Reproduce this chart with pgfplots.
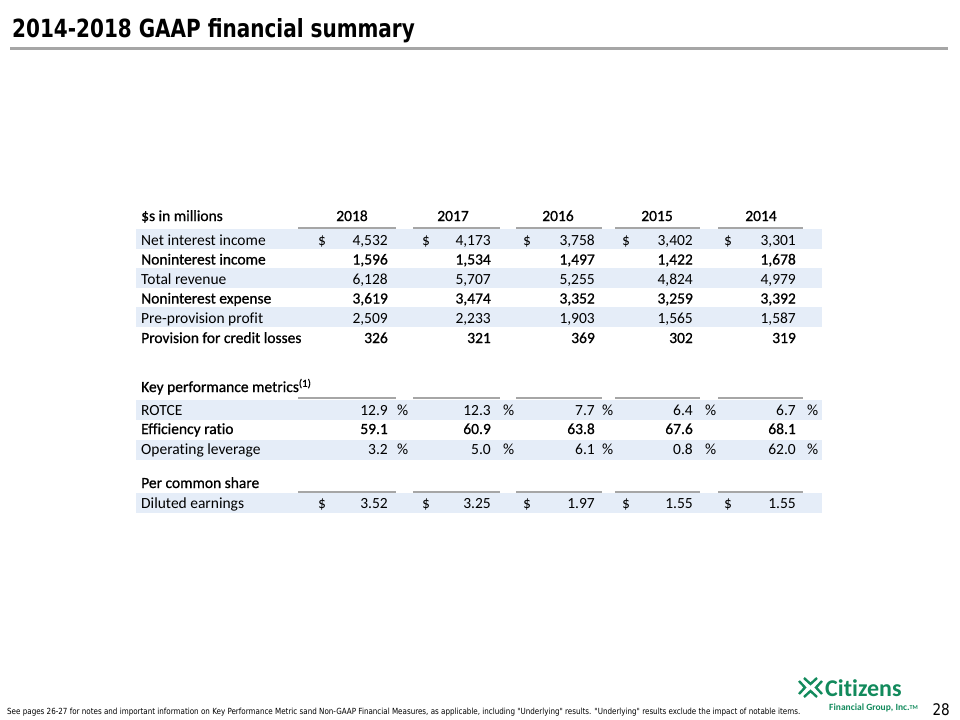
\documentclass[border=0pt]{standalone}
\usepackage{pgfplots}
\pgfplotsset{compat=1.18}
\usepackage{pgfplotstable}
\usepackage{fontspec}
\setmainfont{Carlito}[Ligatures=NoCommon]
\newfontfamily\tabreg{Carlito}[Ligatures=NoCommon]
\newfontfamily\tabbf{Carlito}[FakeBold=0.8,Ligatures=NoCommon]
\newfontfamily\titlefont[FakeStretch=0.8]{DejaVu Sans Bold}
\newfontfamily\footfont[FakeStretch=0.85]{DejaVu Sans}
\definecolor{band}{RGB}{229,237,248}
\definecolor{rulegray}{RGB}{166,166,166}
\definecolor{cgreen}{RGB}{18,138,92}

% values (rows: y baseline in px; columns: years)
\pgfplotstableread{
y v2018 v2017 v2016 v2015 v2014
245 4532 4173 3758 3402 3301
284 6128 5707 5255 4824 4979
323 2509 2233 1903 1565 1587
}\moneyreg
\pgfplotstableread{
y v2018 v2017 v2016 v2015 v2014
264.5 1596 1534 1497 1422 1678
303.5 3619 3474 3352 3259 3392
343 326 321 369 302 319
}\moneybold
\pgfplotstableread{
y v2018 v2017 v2016 v2015 v2014
415 12.9 12.3 7.7 6.4 6.7
454 3.2 5.0 6.1 0.8 62.0
}\ratioreg
\pgfplotstableread{
y v2018 v2017 v2016 v2015 v2014
434 59.1 60.9 63.8 67.6 68.1
}\ratiobold
\pgfplotstableread{
y v2018 v2017 v2016 v2015 v2014
508 3.52 3.25 1.97 1.55 1.55
}\eps
\pgfplotstableread[col sep=comma]{
x,y,label
141,245,Net interest income
141,284,Total revenue
141,323,Pre-provision profit
141,415,ROTCE
141,454,Operating leverage
141,508,Diluted earnings
}\labelsreg
\pgfplotstableread[col sep=comma]{
x,y,label
141,221,\$s in millions
141,264.5,Noninterest income
141,303.5,Noninterest expense
141,343,Provision for credit losses
141,392,Key performance metrics\textsuperscript{(1)}
141,434,Efficiency ratio
141,488,Per common share
}\labelsbold
\pgfplotstableread[col sep=comma]{
x,y,label
352,221,2018
453,221,2017
558,221,2016
657,221,2015
761,221,2014
}\years
\pgfplotstableread{
x y
318 245
422 245
523 245
622 245
724 245
318 508
422 508
523 508
622 508
724 508
}\dollars
\pgfplotstableread{
x y
397 415
503 415
602 415
705 415
807 415
397 454
503 454
602 454
705 454
807 454
}\percents

\pgfplotsset{
  txtcell/.style 2 args={draw=none, mark=none, point meta=explicit symbolic,
    nodes near coords,
    every node near coord/.append style={inner sep=0pt, text=black, anchor=#1,
      font=\fontsize{15.5bp}{18bp}#2}},
  constcell/.style 2 args={draw=none, mark=none,
    nodes near coords={#1},
    every node near coord/.append style={inner sep=0pt, text=black, anchor=base west,
      font=\fontsize{15.5bp}{18bp}#2}},
  numcell/.style 2 args={draw=none, mark=none, point meta=explicit,
    nodes near coords={\pgfmathprintnumber[assume math mode=true,fixed,fixed zerofill,precision=#1,1000 sep={,}]{\pgfplotspointmeta}},
    every node near coord/.append style={inner sep=0pt, text=black, anchor=base east,
      font=\fontsize{15.5bp}{18bp}#2}},
}
\newcommand\valuecols[2]{%
  \addplot[#2] table[x expr=388,y=y,meta=v2018]{#1};
  \addplot[#2] table[x expr=491,y=y,meta=v2017]{#1};
  \addplot[#2] table[x expr=595,y=y,meta=v2016]{#1};
  \addplot[#2] table[x expr=693,y=y,meta=v2015]{#1};
  \addplot[#2] table[x expr=796,y=y,meta=v2014]{#1};}
\newcommand\band[2]{%
  \addplot[fill=band, draw=none] coordinates {(136,#1) (822,#1) (822,#2) (136,#2)} --cycle;}
\newcommand\seglines[1]{%
  \draw[rulegray, line width=2bp] (298,#1) -- (396,#1);
  \draw[rulegray, line width=2bp] (413,#1) -- (500,#1);
  \draw[rulegray, line width=2bp] (516,#1) -- (602,#1);
  \draw[rulegray, line width=2bp] (615,#1) -- (700,#1);
  \draw[rulegray, line width=2bp] (718,#1) -- (803,#1);}

\begin{document}
\begin{tikzpicture}
\begin{axis}[width=960bp, height=720bp, scale only axis,
  xmin=0, xmax=960, ymin=0, ymax=720, y dir=reverse,
  hide axis, clip=false]
\path (axis cs:0,0) rectangle (axis cs:960,720);
% row shading
\band{229}{249}
\band{268}{288}
\band{307}{327}
\band{400}{420}
\band{440}{460}
\band{493}{513}
% column rules
\seglines{228}
\seglines{398}
\seglines{492}
% labels
\addplot[txtcell={base west}{\tabreg}] table[x=x,y=y,meta=label]{\labelsreg};
\addplot[txtcell={base west}{\tabbf}] table[x=x,y=y,meta=label]{\labelsbold};
\addplot[txtcell={base}{\tabbf}] table[x=x,y=y,meta=label]{\years};
\addplot[constcell={\$}{\tabreg}] table[x=x,y=y]{\dollars};
\addplot[constcell={\%}{\tabreg}] table[x=x,y=y]{\percents};
% values
\valuecols{\moneyreg}{numcell={0}{\tabreg}}
\valuecols{\moneybold}{numcell={0}{\tabbf}}
\valuecols{\ratioreg}{numcell={1}{\tabreg}}
\valuecols{\ratiobold}{numcell={1}{\tabbf}}
\valuecols{\eps}{numcell={2}{\tabreg}}
% title
\node[anchor=base west, inner sep=0pt, font=\fontsize{25bp}{30bp}\titlefont] at (axis cs:12,38) {2014-2018 GAAP financial summary};
\draw[rulegray, line width=3bp] (axis cs:10,49) -- (axis cs:948,49);
% footnote
\node[anchor=base west, inner sep=0pt] at (axis cs:7,714) {\resizebox{793bp}{!}{\fontsize{8bp}{10bp}\footfont See pages 26-27 for notes and important information on Key Performance Metric sand Non-GAAP Financial Measures, as applicable, including "Underlying" results. "Underlying" results exclude the impact of notable items.}};
\node[anchor=base east, inner sep=0pt, font=\fontsize{16bp}{18bp}\footfont] at (axis cs:950,715) {28};
% logo
\begin{scope}[cgreen, line width=2.4bp, line cap=butt, line join=miter]
\draw (axis cs:799,681) -- (axis cs:805,687.5) -- (axis cs:799,694);
\draw (axis cs:822,681) -- (axis cs:816,687.5) -- (axis cs:822,694);
\draw (axis cs:804,678) -- (axis cs:810.5,684) -- (axis cs:817,678);
\draw (axis cs:804,697) -- (axis cs:810.5,691) -- (axis cs:817,697);
\end{scope}
\node[anchor=base west, inner sep=0pt, text=cgreen, font=\fontsize{24bp}{28bp}\tabreg\bfseries] at (axis cs:825,696) {Citizens};
\node[anchor=base west, inner sep=0pt, text=cgreen, font=\fontsize{9.5bp}{12bp}\tabreg\bfseries] at (axis cs:829,710) {Financial Group, Inc.\raisebox{1bp}{\fontsize{6bp}{7bp}\selectfont TM}};
\end{axis}
\end{tikzpicture}
\end{document}
